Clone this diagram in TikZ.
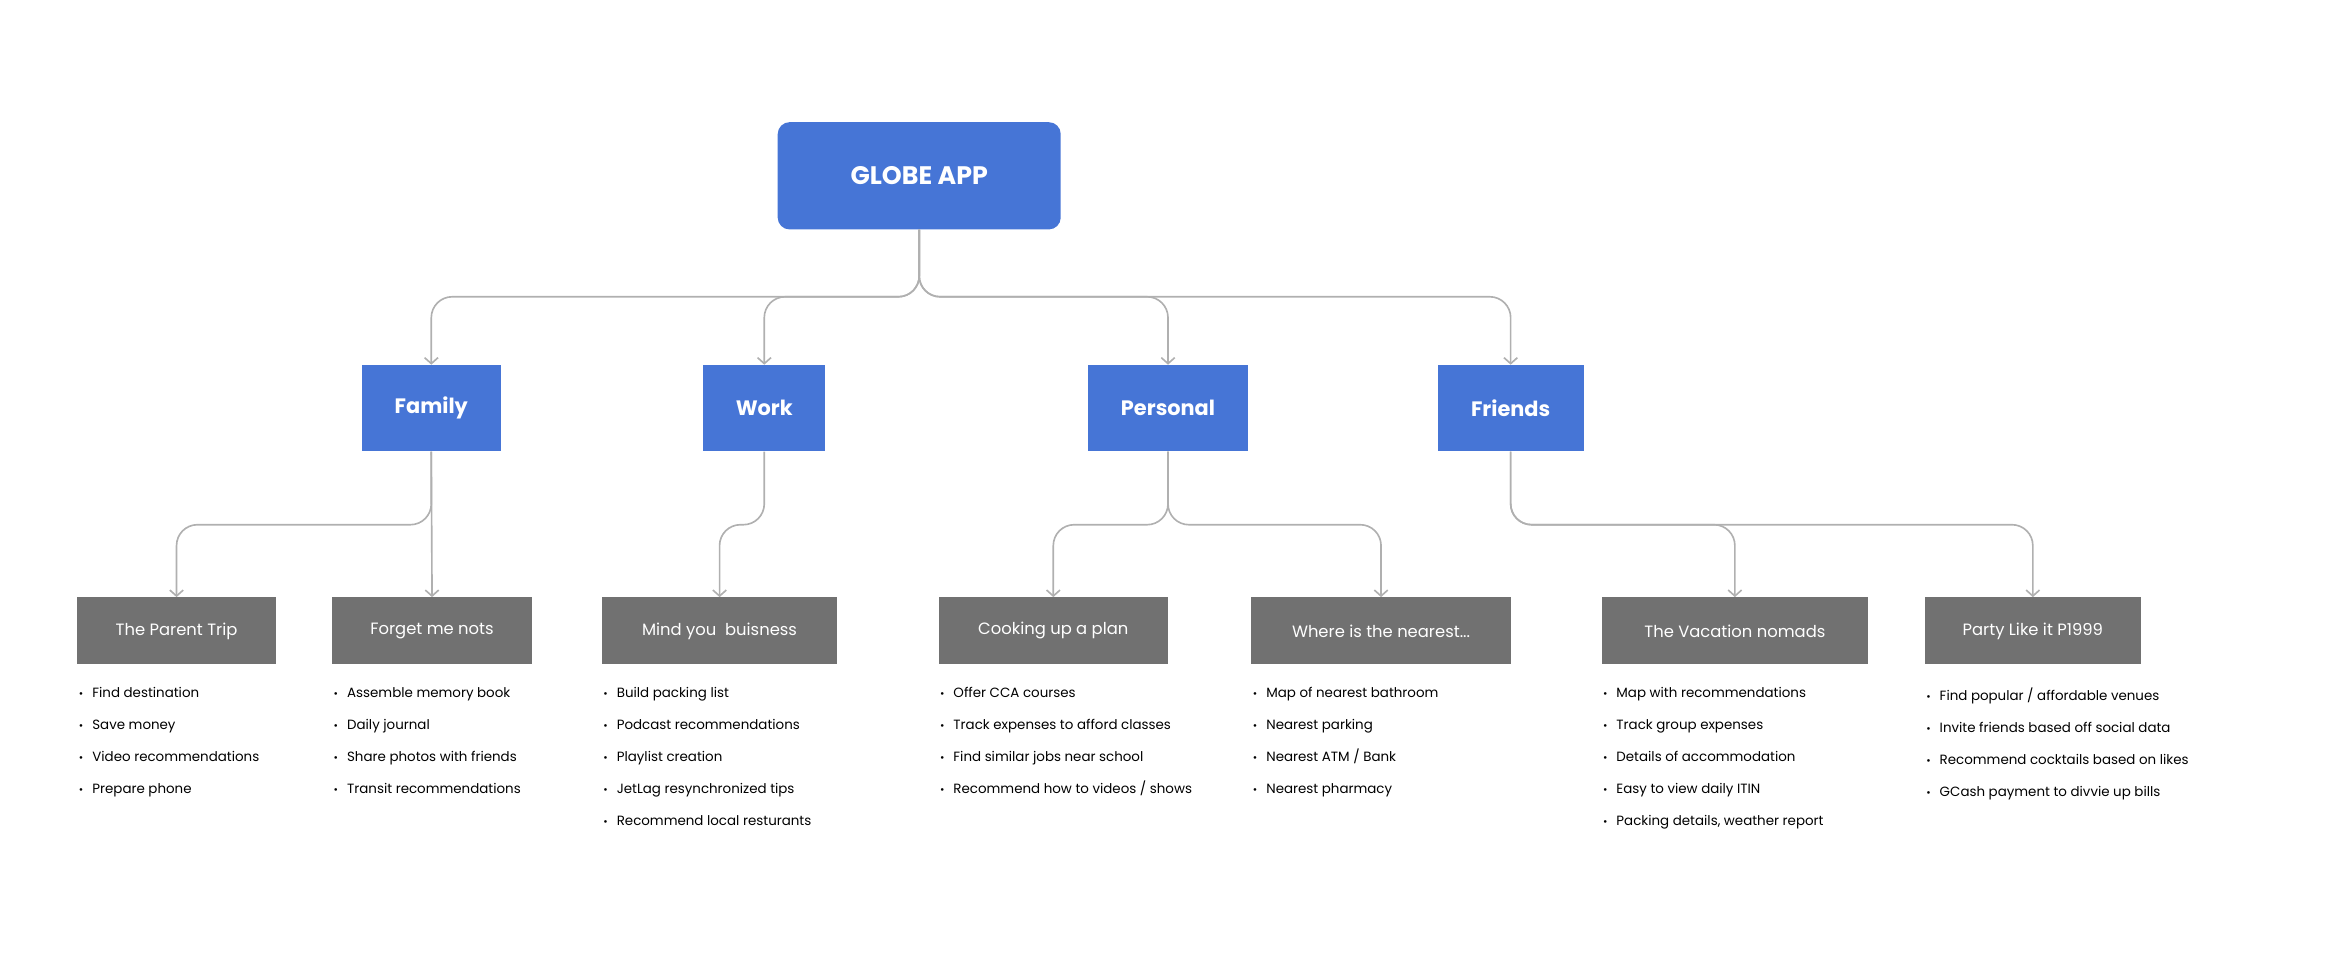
\documentclass[tikz,border=0pt]{standalone}
\usepackage{fontspec}
\setmainfont{Poppins}
\usepackage{xcolor}
\usetikzlibrary{arrows.meta}
\definecolor{appblue}{HTML}{4675D6}
\definecolor{boxgray}{HTML}{717171}
\definecolor{linegray}{HTML}{B0B0B0}
\newcommand{\bl}{\makebox[10pt][l]{\hspace{1pt}\scalebox{0.8}{\textbullet}}}

\begin{document}
\begin{tikzpicture}[
  x=1pt, y=-1pt,
  root/.style={fill=appblue, rounded corners=8pt, minimum width=190pt, minimum height=72pt,
    text=white, font=\fontsize{17}{20}\selectfont\bfseries},
  cat/.style={fill=appblue, minimum height=58pt, text=white,
    font=\fontsize{14}{17}\selectfont\bfseries},
  sub/.style={fill=boxgray, minimum height=45pt, text=white,
    font=\fontsize{11}{13}\selectfont},
  list/.style={anchor=north west, inner sep=0pt, align=left,
    font=\fontsize{9}{21.5}\selectfont},
  conn/.style={draw=linegray, line width=1.1pt, rounded corners=14pt,
    -{Straight Barb[length=4pt,width=9pt]}},
]
\useasboundingbox (0,0) rectangle (1568,646);

\node [root] (globe) at (617,118) {GLOBE APP};

\node [cat, minimum width=93pt] (family) at (289.5,274) {Family};
\node [cat, minimum width=82pt] (work) at (513,274) {Work};
\node [cat, minimum width=108pt] (personal) at (784,274) {Personal};
\node [cat, minimum width=98pt] (friends) at (1014,274) {Friends};

\node [sub, minimum width=133pt] (parent) at (118.5,423.5) {The Parent Trip};
\node [sub, minimum width=134pt] (forget) at (290,423.5) {Forget me nots};
\node [sub, minimum width=158pt] (mind) at (483,423.5) {Mind you\ \ buisness};
\node [sub, minimum width=154pt] (cooking) at (707,423.5) {Cooking up a plan};
\node [sub, minimum width=174pt] (nearest) at (927,423.5) {Where is the nearest...};
\node [sub, minimum width=179pt] (nomads) at (1164.5,423.5) {The Vacation nomads};
\node [sub, minimum width=145pt] (party) at (1364.5,423.5) {Party Like it P1999};

% connectors
\foreach \c in {family,work,personal,friends}
  \draw [conn] (globe.south) -- ++(0,45) -| (\c.north);
\draw [conn] (family.south) -- ++(0,49) -| (parent.north);
\draw [conn, rounded corners=0pt] (family.south) -- (forget.north);
\draw [conn] (work.south) -- ++(0,49) -| (mind.north);
\draw [conn] (personal.south) -- ++(0,49) -| (cooking.north);
\draw [conn] (personal.south) -- ++(0,49) -| (nearest.north);
\draw [conn] (friends.south) -- ++(0,49) -| (nomads.north);
\draw [conn] (friends.south) -- ++(0,49) -| (party.north);

% lists
\node [list] (l1) at ([yshift=-15pt]parent.south west) {\bl Find destination\\\bl Save money\\\bl Video recommendations\\\bl Prepare phone};
\node [list] (l2) at ([yshift=-15pt]forget.south west) {\bl Assemble memory book\\\bl Daily journal\\\bl Share photos with friends\\\bl Transit recommendations};
\node [list] (l3) at ([yshift=-15pt]mind.south west) {\bl Build packing list\\\bl Podcast recommendations\\\bl Playlist creation\\\bl JetLag resynchronized tips\\\bl Recommend local resturants};
\node [list] (l4) at ([yshift=-15pt]cooking.south west) {\bl Offer CCA courses\\\bl Track expenses to afford classes\\\bl Find similar jobs near school\\\bl Recommend how to videos / shows};
\node [list] (l5) at ([yshift=-15pt]nearest.south west) {\bl Map of nearest bathroom\\\bl Nearest parking\\\bl Nearest ATM / Bank\\\bl Nearest pharmacy};
\node [list] (l6) at ([yshift=-15pt]nomads.south west) {\bl Map with recommendations\\\bl Track group expenses\\\bl Details of accommodation\\\bl Easy to view daily ITIN\\\bl Packing details, weather report};
\node [list] (l7) at ([yshift=-15pt]party.south west) {\bl Find popular / affordable venues\\\bl Invite friends based off social data\\\bl Recommend cocktails based on likes\\\bl GCash payment to divvie up bills};

\end{tikzpicture}
\end{document}
